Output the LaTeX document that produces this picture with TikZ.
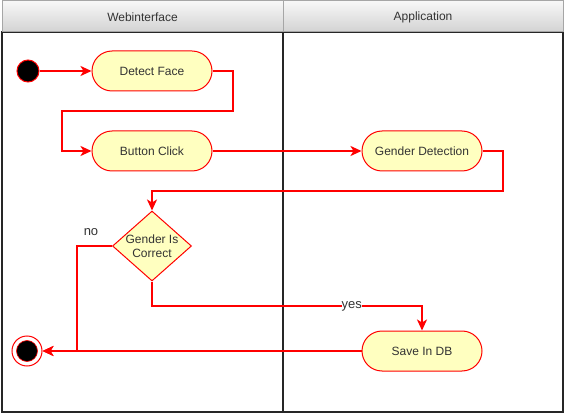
\documentclass[tikz,border=0pt]{standalone}
\usepackage{fontspec}
\setmainfont{Liberation Sans}
\usetikzlibrary{shapes.geometric,arrows.meta}
\definecolor{actfill}{HTML}{FFFFC0}
\definecolor{txt}{HTML}{333333}
\tikzset{
  act/.style={draw=red, line width=1pt, fill=actfill, rounded corners=20pt,
    minimum width=120pt, minimum height=40pt, inner sep=0pt,
    font=\fontsize{12}{14}\selectfont, text=txt},
  flow/.style={draw=red, line width=2pt,
    -{Stealth[length=11pt,width=10pt,inset=3pt]}},
  lbl/.style={font=\fontsize{13}{15}\selectfont, text=txt, inner sep=0pt},
  lanebody/.style={draw=black!85, line width=1.5pt}
}
\begin{document}
\begin{tikzpicture}[x=1pt,y=-1pt]
\useasboundingbox (0,0) rectangle (565,414);
% lanes
\draw[lanebody] (2,32) rectangle (283,412);
\draw[lanebody] (283,32) rectangle (563,412);
\shade[top color=gray!6, bottom color=gray!35] (2,1) rectangle (283,32);
\shade[top color=gray!6, bottom color=gray!35] (283,1) rectangle (563,32);
\draw[gray!70, line width=1pt] (2,1) rectangle (283,32);
\draw[gray!70, line width=1pt] (283,1) rectangle (563,32);
\node[lbl, font=\fontsize{12}{14}\selectfont] (h1) at (142.5,17.5) {Webinterface};
\node[lbl, font=\fontsize{12}{14}\selectfont] (h2) at (423,17.5) {Application};
% nodes
\node[circle, draw=red, line width=1pt, fill=black, minimum size=22pt, inner sep=0pt] (start) at (28,71) {};
\node[act] (df) at (152,71) {Detect Face};
\node[act] (bc) at (152,151) {Button Click};
\node[act] (gd) at (422,151) {Gender Detection};
\node[diamond, draw=red, line width=1pt, fill=actfill, minimum width=79pt, minimum height=70pt, inner sep=0pt] (dec) at (152,246) {};
\node[align=center, font=\fontsize{12}{14}\selectfont, text=txt, inner sep=0pt] (dectxt) at (152,246) {Gender Is\\Correct};
\node[act] (db) at (422,351) {Save In DB};
\node[circle, draw=red, line width=1pt, fill=white, minimum size=30pt, inner sep=0pt] (end) at (27,351) {};
\node[circle, draw=red, line width=0.6pt, fill=black, minimum size=21pt, inner sep=0pt] (endin) at (27,351) {};
% connectors
\draw[flow] (start) -- (df);
\draw[flow] (df.east) -- ++(20,0) |- (62,111) |- (bc.west);
\draw[flow] (bc) -- (gd);
\draw[flow] (gd.east) -- ++(20,0) |- (152,191) -- (dec.north);
\draw[flow] (dec.south) |- (422,306) node[lbl, fill=white, pos=0.87] (yes) {yes} -- (db.north);
\draw[flow] (dec.west) -- (77,246) |- (end.east);
\node[lbl] (no) at (91,232) {no};
\draw[flow] (db.west) -- (end.east);
\end{tikzpicture}
\end{document}
